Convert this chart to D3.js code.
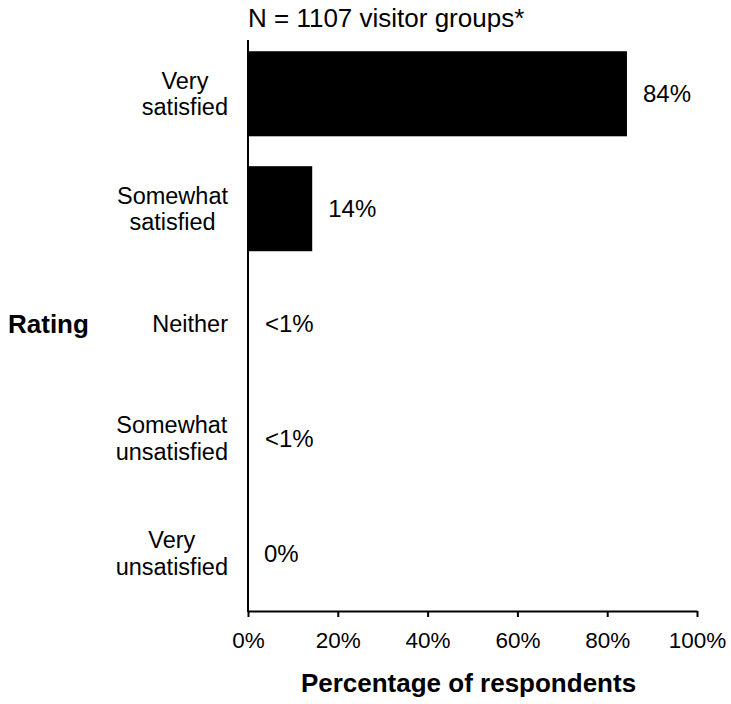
<!DOCTYPE html>
<html>
<head>
<meta charset="utf-8">
<script src="https://cdn.jsdelivr.net/npm/d3@7"></script>
<style>
  html, body { margin: 0; padding: 0; background: #fff; }
  svg text { font-family: "Liberation Sans", Arial, sans-serif; fill: #000; }
</style>
</head>
<body>
<svg id="chart" width="731" height="704"></svg>
<script>
const categories = ["Very satisfied", "Somewhat satisfied", "Neither", "Somewhat unsatisfied", "Very unsatisfied"];
const categoryLines = [["Very", "satisfied"], ["Somewhat", "satisfied"], ["Neither"], ["Somewhat", "unsatisfied"], ["Very", "unsatisfied"]];
const values = [84.4, 14.3, 0.2, 0.2, 0];
const valueLabels = ["84%", "14%", "<1%", "<1%", "0%"];
const xTicks = [0, 20, 40, 60, 80, 100];
const titleText = "N = 1107 visitor groups*";
const xTitle = "Percentage of respondents";
const yTitle = "Rating";

(function() {
const svg = d3.select("#chart");
const pLeft = 248, pRight = 697, pTop = 40, pBottom = 611;
const bandTop = 36.3;

const x = d3.scaleLinear().domain([0, 100]).range([pLeft, pRight]);
const y = d3.scaleBand().domain(categories).range([bandTop, pBottom]).paddingInner(0.26).paddingOuter(0.13);

// bars
svg.selectAll("rect.bar").data(values).join("rect")
  .attr("class", "bar")
  .attr("x", x(0))
  .attr("y", (d, i) => y(categories[i]))
  .attr("width", d => x(d) - x(0))
  .attr("height", y.bandwidth())
  .attr("fill", "#000");

// x axis
const xAxis = d3.axisBottom(x).tickValues(xTicks).tickFormat(d => d + "%").tickSize(6).tickSizeOuter(0).tickPadding(15);
const gx = svg.append("g").attr("transform", `translate(0,${pBottom})`).call(xAxis);
gx.select(".domain").attr("stroke", "#000").attr("stroke-width", 2);
gx.selectAll(".tick line").attr("stroke", "#000").attr("stroke-width", 2);
gx.selectAll(".tick text").attr("font-size", 22.5).attr("font-family", "Liberation Sans, Arial, sans-serif").attr("fill", "#222");

// y axis line
const yAxis = d3.axisLeft(y).tickSize(0).tickFormat("");
const gy = svg.append("g").attr("transform", `translate(${pLeft},0)`).call(yAxis);
gy.select(".domain").attr("stroke", "#000").attr("stroke-width", 2).attr("d", `M0,${pTop}V${pBottom + 1}`);

// category labels
const labelRight = 228;
const lineH = 26.7;
const catFs = 23.5;
categoryLines.forEach((lines, i) => {
  const cy = y(categories[i]) + y.bandwidth() / 2;
  const t = svg.append("text").attr("text-anchor", "middle").attr("font-size", catFs).attr("fill", "#222");
  lines.forEach((ln, j) => {
    t.append("tspan").attr("x", 0).attr("y", cy + (j - (lines.length - 1) / 2) * lineH).attr("dy", "0.35em").text(ln);
  });
  let maxW = 0;
  t.selectAll("tspan").each(function() { maxW = Math.max(maxW, this.getComputedTextLength()); });
  t.selectAll("tspan").attr("x", labelRight - maxW / 2);
});

// value labels
svg.selectAll("text.val").data(values).join("text")
  .attr("class", "val")
  .attr("x", d => x(d) + 16)
  .attr("y", (d, i) => y(categories[i]) + y.bandwidth() / 2)
  .attr("dy", "0.35em")
  .attr("font-size", 24)
  .attr("fill", "#222")
  .text((d, i) => valueLabels[i]);

// title
svg.append("text").attr("x", pLeft).attr("y", 27).attr("font-size", 26).attr("fill", "#222").text(titleText);

// axis titles
svg.append("text").attr("x", (pLeft + pRight) / 2 - 4).attr("y", 692).attr("text-anchor", "middle")
  .attr("font-size", 26).attr("font-weight", "bold").text(xTitle);
svg.append("text").attr("x", 8).attr("y", y(categories[2]) + y.bandwidth() / 2).attr("dy", "0.35em")
  .attr("font-size", 26).attr("font-weight", "bold").text(yTitle);
})();
</script>
</body>
</html>
